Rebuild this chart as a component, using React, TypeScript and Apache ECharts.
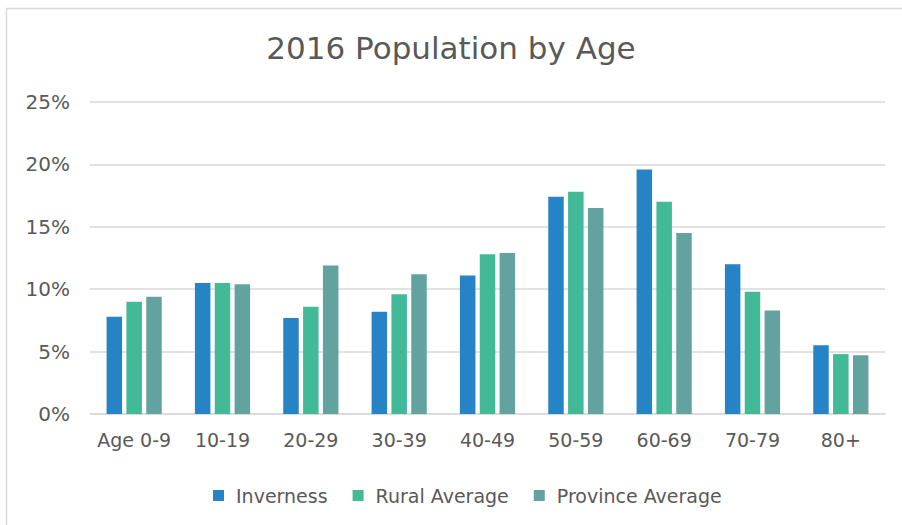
import React, { useEffect, useRef } from "react";
import * as echarts from "echarts";

const categories = ["Age 0-9", "10-19", "20-29", "30-39", "40-49", "50-59", "60-69", "70-79", "80+"];
const inverness = [7.8, 10.5, 7.7, 8.2, 11.1, 17.4, 19.6, 12.0, 5.5];
const ruralAverage = [9.0, 10.5, 8.6, 9.6, 12.8, 17.8, 17.0, 9.8, 4.8];
const provinceAverage = [9.4, 10.4, 11.9, 11.2, 12.9, 16.5, 14.5, 8.3, 4.7];
const seriesNames = ["Inverness", "Rural Average", "Province Average"];
const colors = ["#2683C6", "#42BA97", "#62A39F"];

const FONT = "DejaVu Sans";
const TEXT = "#595959";

export default function App() {
  const ref = useRef<HTMLDivElement>(null);
  useEffect(() => {
    if (!ref.current) return;
    const chart = echarts.init(ref.current, null, { renderer: "svg" });
    const data = [inverness, ruralAverage, provinceAverage];
    chart.setOption({
      animation: false,
      backgroundColor: "#ffffff",
      textStyle: { fontFamily: FONT },
      title: {
        text: "2016 Population by Age",
        left: "center",
        top: 27,
        textStyle: { fontFamily: FONT, fontSize: 31, fontWeight: "normal", color: TEXT },
      },
      graphic: [
        {
          type: "rect",
          shape: { x: 6.5, y: 8.5, width: 1000, height: 1000 },
          style: { fill: "none", stroke: "#D9D9D9", lineWidth: 1.5 },
          silent: true,
        },
      ],
      legend: {
        data: seriesNames,
        left: 208,
        top: 481,
        itemWidth: 11,
        itemHeight: 11,
        itemGap: 25,
        icon: "rect",
        textStyle: { fontFamily: FONT, fontSize: 19, color: TEXT, padding: [0, 0, 0, 7] },
      },
      grid: { left: 90, right: 17, top: 102, bottom: 111, containLabel: false },
      xAxis: {
        type: "category",
        data: categories,
        axisLine: { lineStyle: { color: "#D9D9D9", width: 1.5 } },
        axisTick: { show: false },
        axisLabel: { fontFamily: FONT, fontSize: 19, color: TEXT, margin: 16, interval: 0 },
      },
      yAxis: {
        type: "value",
        min: 0,
        max: 25,
        interval: 5,
        axisLine: { show: false },
        axisTick: { show: false },
        splitLine: { lineStyle: { color: "#D9D9D9", width: 1.5 } },
        axisLabel: { fontFamily: FONT, fontSize: 20, color: TEXT, margin: 20, formatter: "{value}%" },
      },
      series: seriesNames.map((name, i) => ({
        name,
        type: "bar",
        data: data[i],
        barWidth: 15.5,
        barGap: "28%",
        itemStyle: { color: colors[i] },
      })),
    });
    return () => chart.dispose();
  }, []);
  return <div ref={ref} style={{ position: "fixed", left: 0, top: 0, width: 902, height: 525 }} />;
}
